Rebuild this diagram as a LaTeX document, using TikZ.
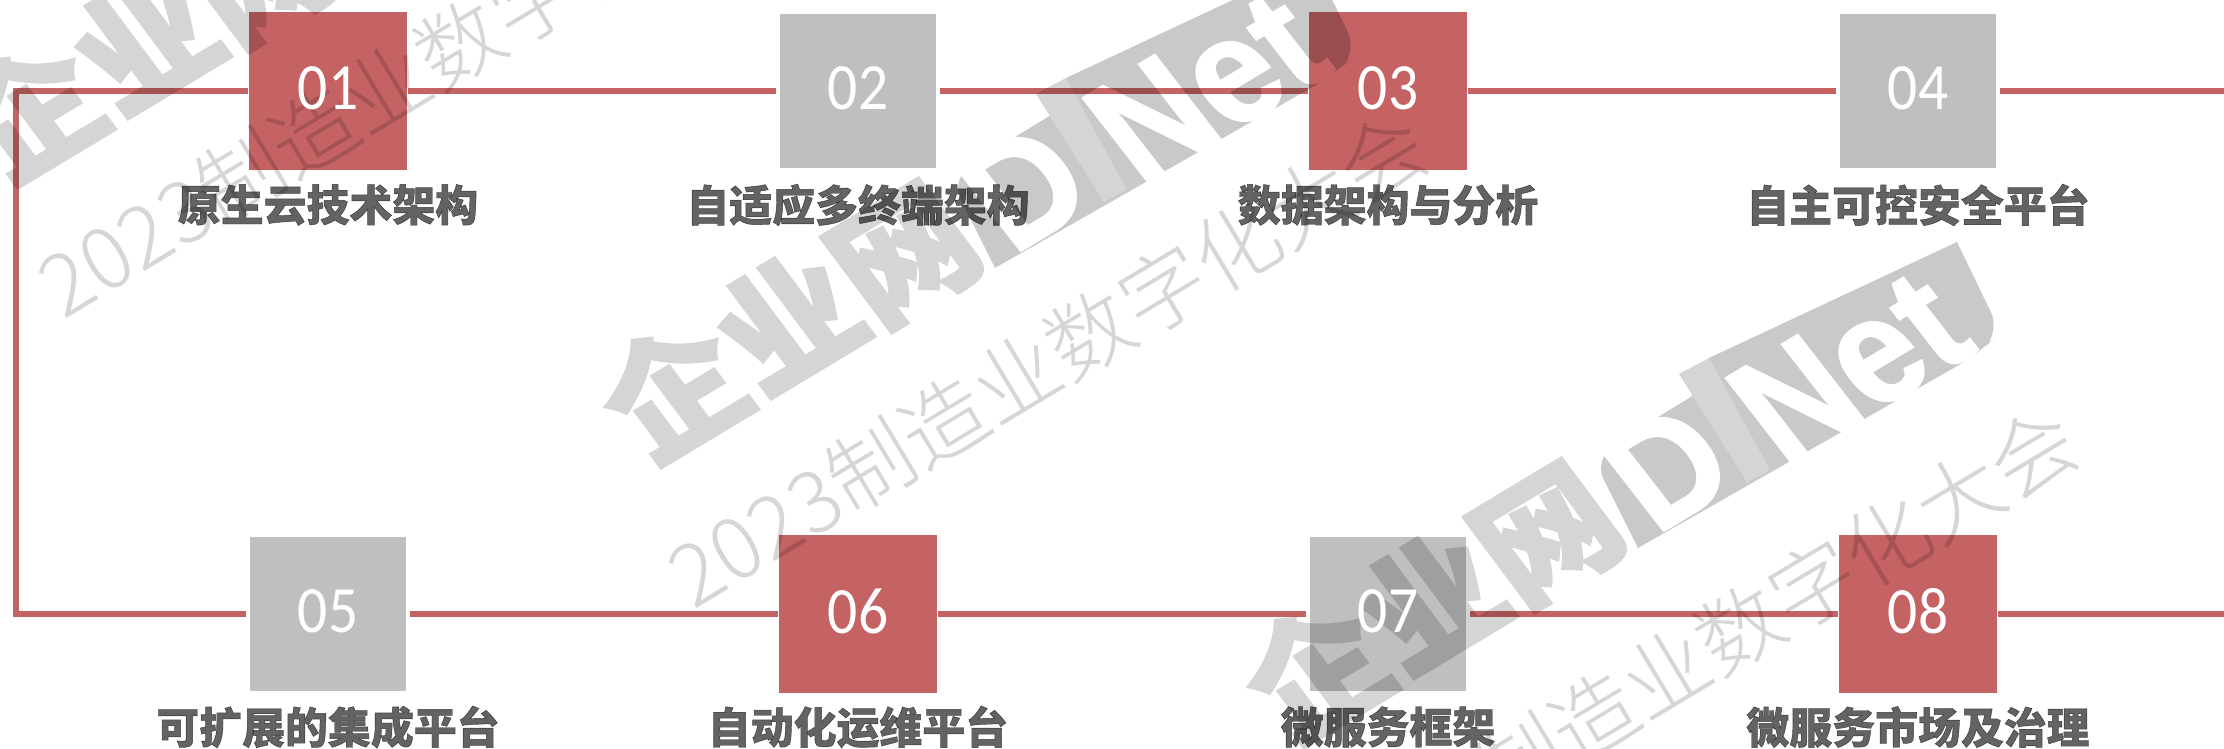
\documentclass[tikz,border=0pt]{standalone}
\usepackage{fontspec}
\setmainfont{Noto Sans CJK SC}[BoldFeatures={FakeBold=1}]
\newfontfamily\numfont{Carlito}[FakeStretch=0.9]
\newfontfamily\wordfont{Noto Sans CJK SC}[UprightFont=* Light]
\newfontfamily\hanfont{Noto Sans CJK SC}[BoldFeatures={FakeBold=2}]
\newfontfamily\latinfont{Liberation Sans}[FakeStretch=0.92,BoldFeatures={FakeBold=1.5}]
\definecolor{boxred}{HTML}{C46264}
\definecolor{boxgray}{HTML}{BFBFBF}
\definecolor{labelgray}{HTML}{636363}
\definecolor{bandgray}{HTML}{C9C9C9}
\definecolor{hangray}{HTML}{D5D5D5}
\definecolor{wordgray}{HTML}{D6D6D6}
\tikzset{
    redbox/.style = {rectangle, fill=boxred, minimum width=1.58cm, minimum height=1.58cm, inner sep=0pt},
    graybox/.style = {redbox, fill=boxgray, minimum width=1.55cm, minimum height=1.54cm, outer sep=0.04cm},
    numtext/.style = {text=white, inner sep=0pt, yshift=0.03cm, font=\numfont\fontsize{18.8}{18.8}\selectfont},
    caption/.style = {text=labelgray, font=\bfseries\fontsize{12.2}{12.2}\selectfont, inner sep=0pt},
    link/.style = {draw=boxred, line width=0.055cm},
    smallmark/.style = {rotate=31, text=wordgray, inner sep=0pt, font=\wordfont\fontsize{24.3}{24.3}\selectfont},
    hanmark/.style = {rotate=31, xslant=-0.1, text=hangray, inner sep=0pt, font=\hanfont\bfseries\fontsize{38}{38}\selectfont},
    latinmark/.style = {rotate=31, xslant=-0.12, anchor=base west, text=white, inner sep=0pt, font=\latinfont\bfseries\fontsize{44}{44}\selectfont}
}
\begin{document}
\begin{tikzpicture}[x=0.01cm,y=-0.01cm]
        \useasboundingbox (0,0) rectangle (2224,749);
        \begin{scope}
        \clip (0,0) rectangle (2224,749);
        % the three repeats of the watermark
        \foreach \id/\sx/\sy in {A/-643/-280, B/0/0, C/643/280} {
            \begin{scope}[shift={(\sx,\sy)}]
            \fill[bandgray] (995,268) [rounded corners=4pt] -- (954,186) -- (969,165) [sharp corners] -- (1056,112)
                -- (1066,78) -- (1314,-38) [rounded corners=6pt] -- (1357,51) -- (1337,73) [sharp corners] -- cycle;
            \fill[hangray] (1066,78) -- (1036,94) -- (1104,202) -- (1127,190) -- cycle;
            \node[hanmark] (han\id) at (788,321) {企业网};
            \node[latinmark] (d\id) at (1012,256) {D};
            \node[latinmark] (net\id) at (1140,188) {Net};
            \end{scope}
        }
        \foreach \id/\sx/\sy in {A/-630/-290, B/0/0, C/650/295} {
            \node[smallmark] (word\id) at (1048+\sx,359+\sy) {2023制造业数字化大会};
        }
        \end{scope}
        \begin{scope}[blend mode=multiply]
        \node[redbox] (s01) at (328,91) {};
        \node[graybox] (s02) at (858,91) {};
        \node[redbox] (s03) at (1388,91) {};
        \node[graybox] (s04) at (1918,91) {};
        \node[graybox] (s05) at (328,614) {};
        \node[redbox] (s06) at (858,614) {};
        \node[graybox] (s07) at (1388,614) {};
        \node[redbox] (s08) at (1918,614) {};
        \coordinate (cornerA) at (16,91);
        \coordinate (cornerB) at (16,614);
        \coordinate (endA) at (2224,91);
        \coordinate (endB) at (2224,614);
        \foreach \from/\to in {s01/s02, s02/s03, s03/s04, s04/endA,
                s05/s06, s06/s07, s07/s08, s08/endB}
            \draw[link] (\from) -- (\to);
        \draw[link] (s01) -- (cornerA) -- (cornerB) -- (s05);
        \node[caption] (t01) at (328,205) {原生云技术架构};
        \node[caption] (t02) at (858,205) {自适应多终端架构};
        \node[caption] (t03) at (1388,205) {数据架构与分析};
        \node[caption] (t04) at (1918,205) {自主可控安全平台};
        \node[caption] (t05) at (328,727) {可扩展的集成平台};
        \node[caption] (t06) at (858,727) {自动化运维平台};
        \node[caption] (t07) at (1388,727) {微服务框架};
        \node[caption] (t08) at (1918,727) {微服务市场及治理};
        \end{scope}
        \foreach \id in {01,02,03,04,05,06,07,08}
            \node[numtext] (n\id) at (s\id) {\id};
    \end{tikzpicture}
\end{document}
